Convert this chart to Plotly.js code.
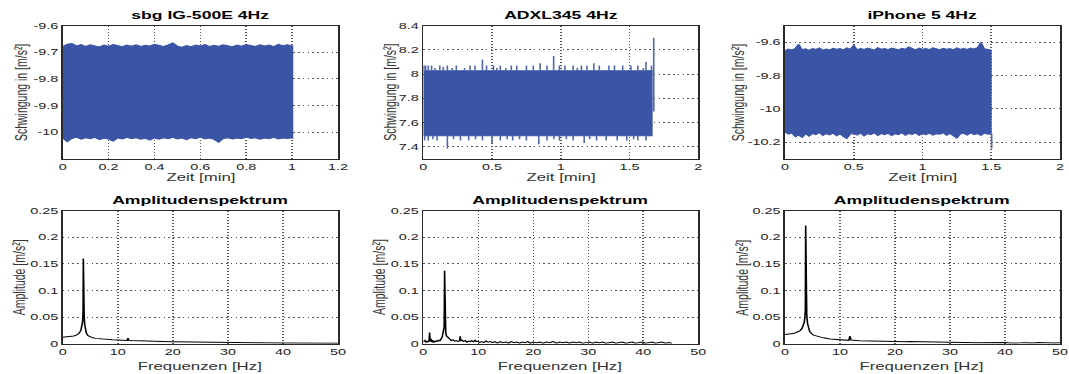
<!DOCTYPE html>
<html>
<head>
<meta charset="utf-8">
<script src="https://cdn.plot.ly/plotly-3.0.1.min.js"></script>
<style>
  html, body { margin: 0; padding: 0; background: #fff; overflow: hidden; }
  /* the figure is laid out narrow and stretched sideways, like the exported MATLAB figure */
  #fig { width: 668px; height: 374px; transform: scaleX(1.6003); transform-origin: 0 0; }
</style>
</head>
<body>
<div id="fig"></div>
<script>
// ---------- time signals: envelope of the sampled vibration band ----------
const sbgTime = [0,0.02,0.04,0.06,0.08,0.1,0.12,0.14,0.16,0.18,0.2,0.22,0.24,0.26,0.28,0.3,0.32,0.34,0.36,0.38,0.4,0.42,0.44,0.46,0.48,0.5,0.52,0.54,0.56,0.58,0.6,0.62,0.64,0.66,0.68,0.7,0.72,0.74,0.76,0.78,0.8,0.82,0.84,0.86,0.88,0.9,0.92,0.94,0.96,0.98,1.0,1.005];
const sbgHigh = [-9.679,-9.670,-9.667,-9.676,-9.671,-9.678,-9.672,-9.675,-9.680,-9.673,
                 -9.677,-9.671,-9.676,-9.679,-9.673,-9.677,-9.672,-9.678,-9.674,-9.676,
                 -9.670,-9.675,-9.678,-9.672,-9.665,-9.677,-9.681,-9.675,-9.679,-9.673,
                 -9.676,-9.671,-9.678,-9.674,-9.677,-9.672,-9.676,-9.679,-9.673,-9.677,
                 -9.671,-9.675,-9.678,-9.672,-9.676,-9.673,-9.679,-9.670,-9.675,-9.672,
                 -9.674,-9.677];
const sbgLow = [-10.022,-10.036,-10.024,-10.019,-10.027,-10.021,-10.025,-10.020,-10.028,-10.023,
                -10.026,-10.034,-10.022,-10.026,-10.020,-10.025,-10.021,-10.027,-10.023,-10.030,
                -10.022,-10.027,-10.021,-10.025,-10.020,-10.026,-10.022,-10.028,-10.021,-10.025,
                -10.019,-10.026,-10.022,-10.027,-10.038,-10.024,-10.021,-10.026,-10.022,-10.025,
                -10.019,-10.024,-10.021,-10.027,-10.022,-10.025,-10.020,-10.026,-10.022,-10.024,
                -10.021,-10.024];

const adxlTime = [0, 1.668];
const adxlHigh = [8.027, 8.027];
const adxlLow = [7.49, 7.49];
const adxlPeakUpTime = [0.005,0.017,0.036,0.06,0.085,0.12,0.145,0.175,0.21,0.24,0.3,0.34,0.376,0.43,0.46,0.51,0.535,0.56,0.6,0.64,0.68,0.75,0.8,0.85,0.9,0.948,0.99,1.03,1.09,1.12,1.15,1.19,1.24,1.28,1.35,1.39,1.45,1.51,1.56,1.6,1.62,1.66];
const adxlPeakUp = [8.07,8.07,8.07,8.07,8.05,8.07,8.06,8.07,8.05,8.07,8.05,8.07,8.07,8.12,8.07,8.07,8.05,8.07,8.05,8.07,8.07,8.07,8.07,8.09,8.07,8.15,8.07,8.07,8.07,8.05,8.07,8.07,8.09,8.07,8.07,8.07,8.07,8.07,8.07,8.05,8.10,8.07];
const adxlPeakDownTime = [0.01,0.036,0.07,0.1,0.175,0.22,0.27,0.33,0.38,0.43,0.5,0.56,0.61,0.65,0.7,0.75,0.84,0.9,0.95,0.99,1.04,1.09,1.17,1.21,1.26,1.33,1.41,1.48,1.53,1.56,1.62];
const adxlPeakDown = [7.45,7.45,7.46,7.45,7.384,7.46,7.45,7.45,7.46,7.45,7.43,7.45,7.46,7.45,7.46,7.45,7.42,7.45,7.46,7.45,7.46,7.45,7.43,7.46,7.45,7.45,7.45,7.45,7.46,7.45,7.45];
// last sample stroke at the end of the record: [time, from, to]
const adxlLastSample = [1.676, 7.69, 8.30];

const iphTime = [0,0.025,0.05,0.075,0.1,0.125,0.15,0.175,0.2,0.225,0.25,0.275,0.3,0.325,0.35,0.375,0.4,0.425,0.45,0.475,0.5,0.525,0.55,0.575,0.6,0.625,0.65,0.675,0.7,0.725,0.75,0.775,0.8,0.825,0.85,0.875,0.9,0.925,0.95,0.975,1.0,1.025,1.05,1.075,1.1,1.125,1.15,1.175,1.2,1.225,1.25,1.275,1.3,1.325,1.35,1.375,1.4,1.425,1.45,1.475,1.503];
const iphHigh = [-9.650,-9.641,-9.646,-9.636,-9.612,-9.645,-9.639,-9.648,-9.637,-9.643,
                 -9.634,-9.647,-9.640,-9.645,-9.636,-9.642,-9.638,-9.646,-9.633,-9.641,
                 -9.618,-9.644,-9.637,-9.643,-9.635,-9.640,-9.646,-9.632,-9.641,-9.637,
                 -9.644,-9.634,-9.639,-9.645,-9.636,-9.642,-9.628,-9.640,-9.646,-9.635,
                 -9.641,-9.637,-9.644,-9.633,-9.640,-9.645,-9.636,-9.642,-9.638,-9.646,
                 -9.634,-9.641,-9.637,-9.643,-9.635,-9.640,-9.632,-9.600,-9.639,-9.644,
                 -9.648];
const iphLow = [-10.140,-10.152,-10.146,-10.168,-10.158,-10.172,-10.150,-10.165,-10.148,-10.155,
                -10.143,-10.160,-10.149,-10.157,-10.146,-10.162,-10.150,-10.168,-10.178,-10.152,
                -10.147,-10.158,-10.145,-10.163,-10.150,-10.155,-10.144,-10.160,-10.149,-10.156,
                -10.146,-10.161,-10.150,-10.155,-10.143,-10.159,-10.148,-10.154,-10.145,-10.160,
                -10.149,-10.156,-10.146,-10.158,-10.150,-10.153,-10.144,-10.159,-10.148,-10.165,
                -10.176,-10.152,-10.147,-10.158,-10.145,-10.156,-10.149,-10.160,-10.146,-10.153,
                -10.150];
const iphLastSample = [1.503, -10.15, -10.238];

// ---------- amplitude spectra ----------
const sbgFreq = [0,1,2,2.5,3,3.3,3.5,3.6,3.7,3.75,3.8,3.85,3.9,4.0,4.1,4.3,4.6,5,5.5,6,7,8,9,10,11,11.7,11.85,12,12.5,14,16,17,18,20,22,24,25.5,26,26.5,28,30,35,40,45,50];
const sbgAmp  = [0.012,0.0128,0.0145,0.016,0.020,0.025,0.032,0.040,0.060,0.160,0.060,0.108,0.050,0.036,0.028,0.020,0.015,0.0125,0.011,0.010,0.0088,0.008,0.0075,0.007,0.0062,0.006,0.0105,0.0065,0.0058,0.005,0.0045,0.0042,0.004,0.0036,0.0032,0.0029,0.0027,0.0032,0.0025,0.0022,0.002,0.0016,0.0013,0.0011,0.001];

const adxlFreq = [0,0.3,0.5,0.7,0.9,1.05,1.15,1.25,1.4,1.55,1.7,1.85,2.0,2.2,2.4,2.6,2.8,3.0,3.2,3.4,3.55,3.7,3.8,3.87,3.93,4.0,4.08,4.2,4.35,4.5,4.7,4.9,5.1,5.4,5.7,6.0,6.3,6.6,6.7,6.8,7.0,7.3,7.6,7.9,8.2,8.5,8.8,9.1,9.4,9.6,9.9,
                  10.2,10.6,11.0,11.4,11.8,12.2,12.6,13.0,13.5,14.0,14.5,15.0,15.5,16.0,16.5,17.0,17.5,18.0,18.5,19.0,19.5,20.0,20.6,21.2,21.8,22.4,23.0,23.6,24.2,24.8,25.4,26.0,26.6,27.2,27.8,28.4,29.0,29.6,30.2,30.8,31.4,32.0,32.6,33.2,33.8,34.4,35.0,35.6,36.2,36.8,37.4,38.0,38.6,39.2,39.8,40.4,41.0,41.6,42.2,42.8,43.4,44.0,44.6,45.2];
const adxlAmp  = [0.004,0.006,0.002,0.005,0.003,0.006,0.021,0.004,0.009,0.003,0.007,0.002,0.005,0.003,0.006,0.004,0.007,0.005,0.008,0.012,0.018,0.030,0.032,0.137,0.030,0.038,0.022,0.015,0.013,0.011,0.009,0.008,0.006,0.007,0.005,0.006,0.004,0.006,0.014,0.005,0.007,0.004,0.006,0.003,0.005,0.004,0.006,0.003,0.007,0.004,0.005,
                  0.002,0.004,0.002,0.005,0.003,0.004,0.002,0.004,0.001,0.004,0.002,0.003,0.001,0.004,0.002,0.003,0.001,0.003,0.002,0.004,0.001,0.003,0.002,0.003,0.001,0.003,0.002,0.004,0.001,0.003,0.002,0.003,0.001,0.003,0.002,0.003,0.001,0.002,0.003,0.001,0.003,0.002,0.003,0.001,0.002,0.003,0.001,0.002,0.003,0.001,0.002,0.003,0.001,0.002,0.003,0.001,0.002,0.003,0.001,0.002,0.003,0.001,0.002,0.001];

const iphFreq = [0,1,1.5,2,2.7,3.1,3.3,3.5,3.6,3.7,3.76,3.82,3.9,3.95,4.1,4.3,4.5,5.2,6.4,7,8.2,10,11,11.6,11.8,12,13.6,15,17.3,20,22,22.5,25,30,35,36,37,38,39,40,41,42,43,44,45,46,47,48,49,50];
const iphAmp  = [0.0175,0.0182,0.019,0.021,0.024,0.029,0.033,0.040,0.048,0.063,0.222,0.063,0.095,0.055,0.038,0.028,0.0225,0.016,0.012,0.011,0.0088,0.0072,0.0065,0.0063,0.0145,0.007,0.0055,0.005,0.0045,0.0042,0.0038,0.004,0.0033,0.0025,0.002,0.0022,0.0016,0.0024,0.0015,0.0021,0.0014,0.0022,0.0016,0.0020,0.0013,0.0021,0.0015,0.0019,0.0014,0.0018];

// ---------- titles and tick labels ----------
const panelTitles = ['sbg IG-500E 4Hz', 'ADXL345 4Hz', 'iPhone 5 4Hz'];
const spectrumTitle = 'Amplitudenspektrum';
const timeLabel = 'Zeit [min]';
const signalLabel = 'Schwingung in [m/s²]';
const freqLabel = 'Frequenzen [Hz]';
const ampLabel = 'Amplitude [m/s²]';

const sbgXTicks = [0, 0.2, 0.4, 0.6, 0.8, 1, 1.2];
const sbgXText = ['0', '0.2', '0.4', '0.6', '0.8', '1', '1.2'];
const sbgYTicks = [-10, -9.9, -9.8, -9.7, -9.6];
const sbgYText = ['-10', '-9.9', '-9.8', '-9.7', '-9.6'];
const minXTicks = [0, 0.5, 1, 1.5, 2];
const minXText = ['0', '0.5', '1', '1.5', '2'];
const adxlYTicks = [7.4, 7.6, 7.8, 8, 8.2, 8.4];
const adxlYText = ['7.4', '7.6', '7.8', '8', '8.2', '8.4'];
const iphYTicks = [-10.2, -10, -9.8, -9.6];
const iphYText = ['-10.2', '-10', '-9.8', '-9.6'];
const freqTicks = [0, 10, 20, 30, 40, 50];
const freqText = ['0', '10', '20', '30', '40', '50'];
const ampTicks = [0, 0.05, 0.1, 0.15, 0.2, 0.25];
const ampText = ['0', '0.05', '0.1', '0.15', '0.2', '0.25'];

// ---------- drawing ----------
const W = 1069, H = 374;
const BAND = '#3a55a5';
const SPIKE = '#5068b0';
const FONT = 'Liberation Sans, Arial, Helvetica, sans-serif';

function band(t, hi, lo, xa, ya) {
  return [
    {x: t, y: hi, xaxis: xa, yaxis: ya, type: 'scatter', mode: 'lines',
     line: {color: BAND, width: 1}, hoverinfo: 'skip', showlegend: false},
    {x: t, y: lo, xaxis: xa, yaxis: ya, type: 'scatter', mode: 'lines', fill: 'tonexty',
     fillcolor: BAND, line: {color: BAND, width: 1}, hoverinfo: 'skip', showlegend: false}
  ];
}
// single-sample strokes sticking out of the band edge
function spikes(t, v, base, xa, ya) {
  const x = [], y = [];
  t.forEach((ti, i) => { x.push(ti, ti, null); y.push(base, v[i], null); });
  return {x, y, xaxis: xa, yaxis: ya, type: 'scatter', mode: 'lines',
          line: {color: SPIKE, width: 1}, hoverinfo: 'skip', showlegend: false};
}
function stroke(s, xa, ya) {
  return {x: [s[0], s[0]], y: [s[1], s[2]], xaxis: xa, yaxis: ya, type: 'scatter', mode: 'lines',
          line: {color: SPIKE, width: 1}, hoverinfo: 'skip', showlegend: false};
}
function spectrum(f, a, xa, ya) {
  return {x: f, y: a, xaxis: xa, yaxis: ya, type: 'scatter', mode: 'lines',
          line: {color: '#000', width: 1}, hoverinfo: 'skip', showlegend: false};
}

const data = [
  ...band(sbgTime, sbgHigh, sbgLow, 'x', 'y'),
  ...band(adxlTime, adxlHigh, adxlLow, 'x2', 'y2'),
  spikes(adxlPeakUpTime, adxlPeakUp, adxlHigh[0], 'x2', 'y2'),
  spikes(adxlPeakDownTime, adxlPeakDown, adxlLow[0], 'x2', 'y2'),
  stroke(adxlLastSample, 'x2', 'y2'),
  ...band(iphTime, iphHigh, iphLow, 'x3', 'y3'),
  stroke(iphLastSample, 'x3', 'y3'),
  spectrum(sbgFreq, sbgAmp, 'x4', 'y4'),
  spectrum(adxlFreq, adxlAmp, 'x5', 'y5'),
  spectrum(iphFreq, iphAmp, 'x6', 'y6')
];

// panel boxes in pixels of the final figure: [left, right], [top, bottom]
const colsPx = [[62.7, 338], [423.3, 698.3], [785, 1060]];
const rowsPx = [[25.7, 158.7], [210.7, 343.7]];
const xd = c => [colsPx[c][0] / W, colsPx[c][1] / W];
const yd = r => [1 - rowsPx[r][1] / H, 1 - rowsPx[r][0] / H];

const tickFont = {family: FONT, size: 9, color: '#222'};
function ax(extra) {
  return Object.assign({
    showline: true, mirror: true, linecolor: '#2a2a2a', linewidth: 1,
    showgrid: true, gridcolor: '#555', gridwidth: 1, griddash: '1px,2px',
    zeroline: false, ticks: '', ticklen: 0, tickmode: 'array', fixedrange: true,
    tickfont: tickFont
  }, extra);
}
const yax = extra => ax(Object.assign({ticklabelstandoff: -1.5}, extra));

const layout = {
  width: 668, height: 374,
  margin: {l: 0, r: 0, t: 0, b: 0},
  paper_bgcolor: '#fff', plot_bgcolor: '#fff',
  showlegend: false,
  xaxis:  ax({domain: xd(0), anchor: 'y',  range: [0, 1.2], tickvals: sbgXTicks, ticktext: sbgXText}),
  yaxis:  yax({domain: yd(0), anchor: 'x',  range: [-10.1, -9.6], tickvals: sbgYTicks, ticktext: sbgYText}),
  xaxis2: ax({domain: xd(1), anchor: 'y2', range: [0, 2], tickvals: minXTicks, ticktext: minXText}),
  yaxis2: yax({domain: yd(0), anchor: 'x2', range: [7.3, 8.4], tickvals: adxlYTicks, ticktext: adxlYText}),
  xaxis3: ax({domain: xd(2), anchor: 'y3', range: [0, 2], tickvals: minXTicks, ticktext: minXText}),
  yaxis3: yax({domain: yd(0), anchor: 'x3', range: [-10.3, -9.5], tickvals: iphYTicks, ticktext: iphYText}),
  xaxis4: ax({domain: xd(0), anchor: 'y4', range: [0, 50], tickvals: freqTicks, ticktext: freqText}),
  yaxis4: yax({domain: yd(1), anchor: 'x4', range: [0, 0.25], tickvals: ampTicks, ticktext: ampText}),
  xaxis5: ax({domain: xd(1), anchor: 'y5', range: [0, 50], tickvals: freqTicks, ticktext: freqText}),
  yaxis5: yax({domain: yd(1), anchor: 'x5', range: [0, 0.25], tickvals: ampTicks, ticktext: ampText}),
  xaxis6: ax({domain: xd(2), anchor: 'y6', range: [0, 50], tickvals: freqTicks, ticktext: freqText}),
  yaxis6: yax({domain: yd(1), anchor: 'x6', range: [0, 0.25], tickvals: ampTicks, ticktext: ampText}),
  annotations: []
};

const titleFont = {family: FONT, size: 11, color: '#000', weight: 'bold'};
const labelFont = {family: FONT, size: 10.5, color: '#333'};
function note(text, xPx, yPx, font, angle) {
  layout.annotations.push({text, x: xPx / W, y: 1 - yPx / H, xref: 'paper', yref: 'paper',
    xanchor: 'center', yanchor: 'middle', showarrow: false, font, textangle: angle || 0});
}
const yLabelX = [[20.7, 390, 738], [19.3, 379, 741.7]];
for (let c = 0; c < 3; c++) {
  const cx = (colsPx[c][0] + colsPx[c][1]) / 2;
  note(panelTitles[c], cx, 15, titleFont);
  note(spectrumTitle, cx, 200, titleFont);
  note(timeLabel, cx, 176.7, labelFont);
  note(freqLabel, cx, 365.5, labelFont);
  note(signalLabel, yLabelX[0][c], (rowsPx[0][0] + rowsPx[0][1]) / 2, labelFont, -90);
  note(ampLabel, yLabelX[1][c], (rowsPx[1][0] + rowsPx[1][1]) / 2, labelFont, -90);
}

Plotly.newPlot('fig', data, layout, {staticPlot: true, displayModeBar: false});
</script>
</body>
</html>
